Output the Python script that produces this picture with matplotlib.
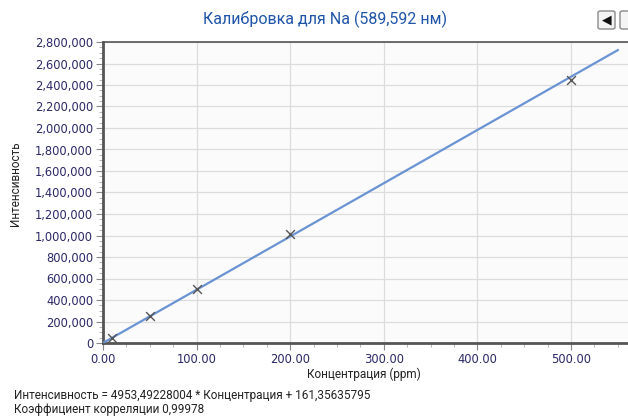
import matplotlib
matplotlib.use("Agg")
import matplotlib.pyplot as plt
import numpy as np
from matplotlib.ticker import FuncFormatter, MultipleLocator
from matplotlib.patches import FancyBboxPatch

title = "Калибровка для Na (589,592 нм)"
x_label = "Концентрация (ppm)"
y_label = "Интенсивность"
equation = "Интенсивность = 4953,49228004 * Концентрация + 161,35635795"
correlation = "Коэффициент корреляции 0,99978"

conc = [10, 50, 100, 200, 500]
intensity = [45000, 255000, 500000, 1015000, 2450000]
slope = 4953.49228004
intercept = 161.35635795
line_range = [0, 550]

fig = plt.figure(figsize=(6.28, 4.18), dpi=100)
W, H = 628, 418
left_px, right_px, top_px, bottom_px = 103, 636.5, 42, 343
ax = fig.add_axes([left_px / W, 1 - bottom_px / H, (right_px - left_px) / W, (bottom_px - top_px) / H])
ax.set_facecolor("#fbfbfb")

xl = np.array(line_range, dtype=float)
ax.plot(xl, slope * xl + intercept, color="#6a93d4", lw=1.6, zorder=3)
ax.scatter(conc, intensity, marker="x", s=40, color="#555555", linewidths=1.0, zorder=4)

ax.set_xlim(0, 570)
ax.set_ylim(0, 2800000)
ax.xaxis.set_major_locator(MultipleLocator(100))
ax.xaxis.set_minor_locator(MultipleLocator(25))
ax.yaxis.set_major_locator(MultipleLocator(200000))
ax.yaxis.set_minor_locator(MultipleLocator(50000))
ax.xaxis.set_major_formatter(FuncFormatter(lambda v, p: f"{v:.2f}"))
ax.yaxis.set_major_formatter(FuncFormatter(lambda v, p: f"{int(round(v)):,}"))
ax.grid(True, which="major", color="#dcdcdc", lw=0.9)
ax.set_axisbelow(True)

tick_color = "#2b2868"
ax.tick_params(axis="both", which="major", labelsize=8.3, labelcolor=tick_color,
               color="#888888", length=5, width=0.8, direction="out")
ax.tick_params(axis="both", which="minor", color="#aaaaaa", length=3, width=0.6, direction="out")
ax.tick_params(axis="x", pad=2.5)
ax.tick_params(axis="y", pad=2)
for lbl in ax.get_xticklabels() + ax.get_yticklabels():
    lbl.set_fontweight("medium")

for side in ["left", "bottom"]:
    ax.spines[side].set_color("#555555")
    ax.spines[side].set_linewidth(2.0)
ax.spines["top"].set_color("#555555")
ax.spines["top"].set_linewidth(1.2)
ax.spines["right"].set_visible(False)

cond = ["Roboto", "DejaVu Sans"]
fig.text(325 / W, 1 - 19 / H, title, ha="center", va="center", fontsize=11.5,
         color="#1f55a8", family=cond)
fig.text(364 / W, 1 - 374 / H, x_label, ha="center", va="center", fontsize=8.5,
         color="#222222", family=cond)
fig.text(16 / W, 1 - 184 / H, y_label, ha="center", va="center", rotation=90,
         fontsize=8.5, color="#222222", family=cond)
fig.text(14 / W, 1 - 396 / H, equation, ha="left", va="center", fontsize=8.5,
         color="#222222", family=cond)
fig.text(14 / W, 1 - 410 / H, correlation, ha="left", va="center", fontsize=8.5,
         color="#222222", family=cond)

# navigation buttons (top right)
for x0 in [598, 620]:
    b = FancyBboxPatch((x0 / W, 1 - 29 / H), 17 / W, 18 / H,
                       boxstyle="round,pad=0,rounding_size=0.004",
                       transform=fig.transFigure, facecolor="#f4f4f4",
                       edgecolor="#8a8a8a", lw=1.0, clip_on=False)
    fig.add_artist(b)
fig.text(606.5 / W, 1 - 20 / H, "◀", ha="center", va="center", fontsize=9,
         color="#111111", family="DejaVu Sans")

fig.savefig("out.png", dpi=100)
